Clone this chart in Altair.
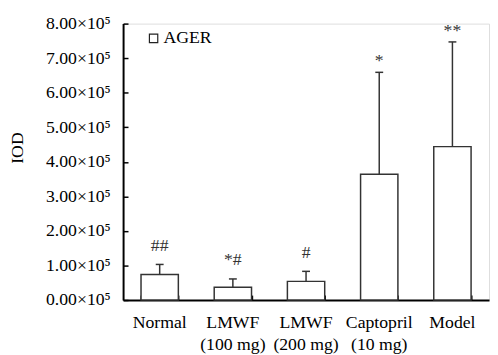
import altair as alt
import pandas as pd

groups = ["Normal", "LMWF (100 mg)", "LMWF (200 mg)", "Captopril (10 mg)", "Model"]
means = [0.74e5, 0.37e5, 0.54e5, 3.64e5, 4.44e5]
uppers = [1.03e5, 0.61e5, 0.83e5, 6.59e5, 7.47e5]
signs = ["##", "*#", "#", "*", "**"]
series = ["AGER"] * 5
y_ticks = [0, 1e5, 2e5, 3e5, 4e5, 5e5, 6e5, 7e5, 8e5]

df = pd.DataFrame({"group": groups, "mean": means, "upper": uppers,
                   "sign": signs, "series": series})

W, H = 372, 281
FONT = "Liberation Serif"
FS = 18
INK = "#333333"

xscale = alt.Scale(paddingInner=0.49, paddingOuter=0.245)
yscale = alt.Scale(domain=[0, 8e5], nice=False, zero=True)

label_expr = ("indexof(datum.label, ' (') > 0 ? "
              "[substring(datum.label, 0, indexof(datum.label, ' (')), "
              "substring(datum.label, indexof(datum.label, ' (') + 1)] : datum.label")

bars = alt.Chart(df).mark_bar(stroke=INK, strokeWidth=1.5).encode(
    x=alt.X("group:N", sort=groups, scale=xscale,
            axis=alt.Axis(title=None, orient="bottom", labelExpr=label_expr,
                          labelAngle=0, ticks=False, labelPadding=14,
                          labelLineHeight=22, labelFont=FONT, labelFontSize=FS,
                          labelColor="black", domainColor="black", domainWidth=2)),
    y=alt.Y("mean:Q", scale=yscale,
            axis=alt.Axis(title="IOD", values=y_ticks, grid=False, ticks=False,
                          labelExpr="format(datum.value / 100000, '.2f') + '×10⁵'",
                          labelPadding=13, labelFont=FONT, labelFontSize=FS,
                          labelColor="black", domainColor="black", domainWidth=2,
                          titleFont=FONT, titleFontSize=FS, titleFontWeight="normal",
                          titleColor="black", titleX=-102, titleY=126,
                          titleBaseline="alphabetic")),
    color=alt.Color("series:N", scale=alt.Scale(range=["white"]),
                    legend=alt.Legend(title=None, orient="none", legendX=22, legendY=6,
                                      symbolType="square", symbolSize=72,
                                      symbolStrokeColor="#222222", symbolStrokeWidth=1.2,
                                      symbolFillColor="white", padding=0,
                                      labelFont=FONT, labelFontSize=FS,
                                      labelColor="black", labelOffset=1)),
)

rules = alt.Chart(df).mark_rule(color=INK, strokeWidth=1.5).encode(
    x=alt.X("group:N", sort=groups, scale=xscale,
            axis=alt.Axis(title=None, orient="top", offset=-H, labels=False,
                          domain=False, tickBand="extent", tickSize=5,
                          tickColor="black", tickWidth=1.5)),
    y=alt.Y("mean:Q", scale=yscale,
            axis=alt.Axis(title=None, orient="right", offset=-W, labels=False,
                          domain=False, grid=False, values=y_ticks, tickSize=5,
                          tickColor="black", tickWidth=1.5)),
    y2="upper:Q",
)

caps = alt.Chart(df).mark_tick(color=INK, thickness=1.5, size=8, opacity=1).encode(
    x=alt.X("group:N", sort=groups, scale=xscale, axis=None),
    y=alt.Y("upper:Q", scale=yscale, axis=None),
)

def sign_layer(test, dy):
    return alt.Chart(df).transform_filter(test).mark_text(
        dy=dy, baseline="alphabetic", font=FONT, fontSize=FS, color=INK
    ).encode(
        x=alt.X("group:N", sort=groups, scale=xscale, axis=None),
        y=alt.Y("upper:Q", scale=yscale, axis=None),
        text="sign:N",
    )

hash_signs = sign_layer("indexof(datum.sign, '#') >= 0", -14)
star_signs = sign_layer("indexof(datum.sign, '#') < 0", -6)

chart = alt.layer(bars, rules, caps, hash_signs, star_signs).resolve_axis(
    x="independent", y="independent"
).properties(
    width=W, height=H,
    autosize=alt.AutoSizeParams(type="none"),
    padding={"left": 117, "top": 13, "right": 1, "bottom": 52},
).configure_view(stroke=None).configure(background="white")

chart.save("out.html", embed_options={"renderer": "svg", "actions": False})
